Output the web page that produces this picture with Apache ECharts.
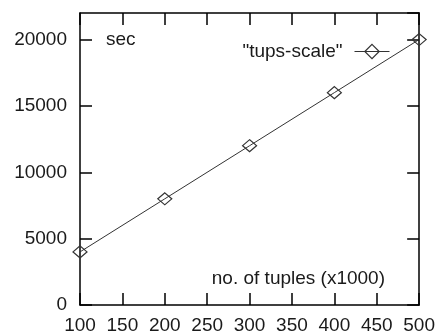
<!DOCTYPE html>
<html>
<head>
<meta charset="utf-8">
<style>html,body{margin:0;padding:0;background:#fff;}#c{width:438px;height:336px;}</style>
<script src="https://cdn.jsdelivr.net/npm/echarts@6/dist/echarts.min.js"></script>
</head>
<body>
<div id="c"></div>
<script>
const seriesName = '"tups-scale"';
const tuples = [100, 200, 300, 400, 500];
const seconds = [4000, 8000, 12000, 16000, 20000];
const yLabel = 'sec';
const xLabel = 'no. of tuples (x1000)';

const FONT = 'Liberation Sans, Arial, Helvetica, sans-serif';
const TXT = '#1a1a1a';
const chart = echarts.init(document.getElementById('c'), null, {renderer: 'canvas'});
const xCommon = {type: 'value', min: 100, max: 500, interval: 50, splitLine: {show: false},
  axisLine: {show: true, onZero: false, lineStyle: {color: '#000', width: 1.5}},
  axisTick: {show: true, inside: true, length: 12, lineStyle: {color: '#000', width: 1.5}}};
const yCommon = {type: 'value', min: 0, max: 22000, interval: 5000, splitLine: {show: false},
  axisLine: {show: true, onZero: false, lineStyle: {color: '#000', width: 1.5}},
  axisTick: {show: true, inside: true, length: 12, lineStyle: {color: '#000', width: 1.5}}};
chart.setOption({
  animation: false,
  backgroundColor: '#fff',
  textStyle: {fontFamily: FONT},
  grid: {left: 80, right: 17, top: 13, bottom: 31},
  xAxis: [
    Object.assign({}, xCommon, {position: 'bottom',
      axisLabel: {color: TXT, fontSize: 19, fontFamily: FONT, margin: 11}}),
    Object.assign({}, xCommon, {position: 'top', axisLabel: {show: false}})
  ],
  yAxis: [
    Object.assign({}, yCommon, {position: 'left',
      axisLabel: {color: TXT, fontSize: 19, fontFamily: FONT, margin: 13, showMaxLabel: false,
        formatter: v => (v % 5000 === 0 ? String(v) : '')}}),
    Object.assign({}, yCommon, {position: 'right', axisLabel: {show: false}})
  ],
  legend: {
    right: 43, top: 37, align: 'right', itemWidth: 35, itemHeight: 18, itemGap: 0,
    textStyle: {color: TXT, fontSize: 19, fontFamily: FONT, padding: [0, 7, 0, 0]},
    itemStyle: {color: 'rgba(255,255,255,0)', borderColor: '#333', borderWidth: 1.2},
    lineStyle: {color: '#333', width: 1},
    data: [seriesName]
  },
  graphic: [
    {type: 'text', left: 106, top: 30, style: {text: yLabel, fontSize: 19, fontFamily: FONT, fill: TXT}},
    {type: 'text', right: 53, top: 269, style: {text: xLabel, fontSize: 19, fontFamily: FONT, fill: TXT}}
  ],
  series: [{
    name: seriesName, type: 'line',
    xAxisIndex: 0, yAxisIndex: 0,
    data: tuples.map((t, i) => [t, seconds[i]]),
    symbol: 'diamond', symbolSize: [14, 12], showAllSymbol: true,
    lineStyle: {color: '#333', width: 1},
    itemStyle: {color: 'rgba(255,255,255,0)', borderColor: '#333', borderWidth: 1.2}
  }]
});
</script>
</body>
</html>
